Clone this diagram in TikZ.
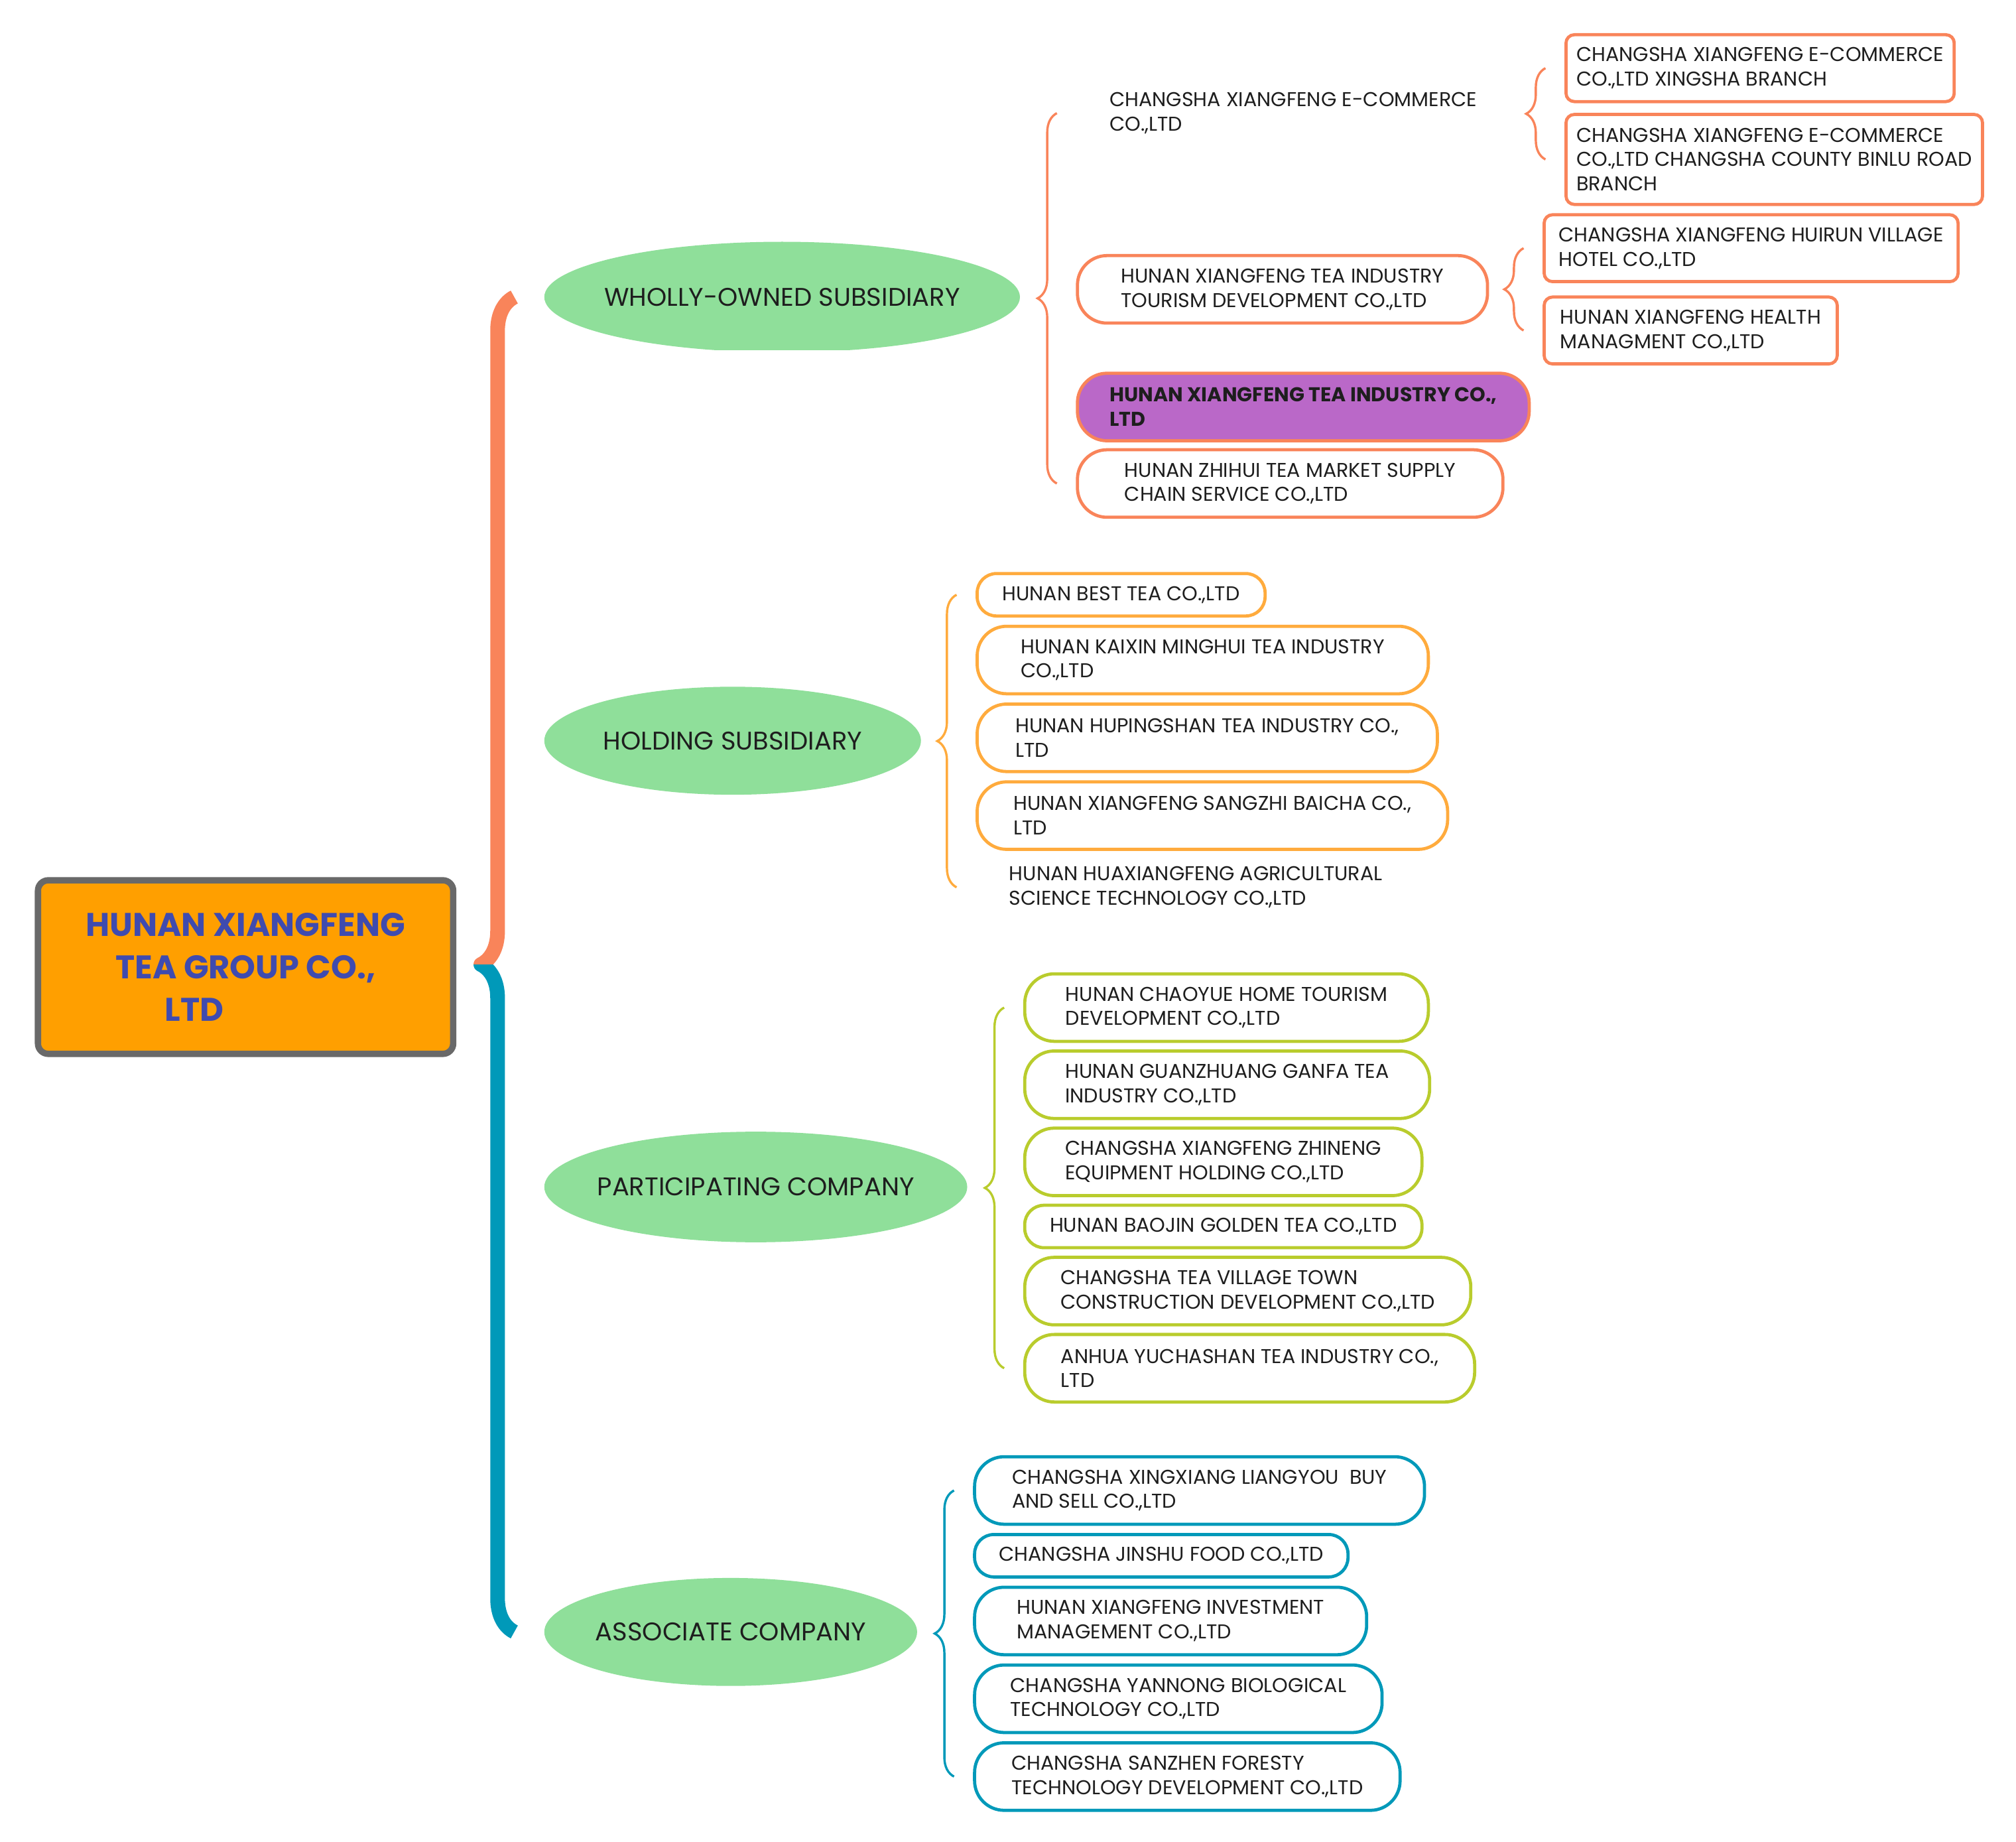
\documentclass[tikz,border=0pt]{standalone}
\usepackage{fontspec}
\setmainfont{Poppins}
\usetikzlibrary{positioning,shapes.geometric,calc,decorations.pathreplacing}
\definecolor{colWhole}{HTML}{F9845A}
\definecolor{colHold}{HTML}{FFAB3D}
\definecolor{colPart}{HTML}{B9CC2D}
\definecolor{colAssoc}{HTML}{0099B9}
\definecolor{catgreen}{HTML}{8FDF9A}
\definecolor{rootfill}{HTML}{FF9F00}
\definecolor{rootline}{HTML}{696969}
\definecolor{rootink}{HTML}{3F4BAF}
\definecolor{hilite}{HTML}{BA68C8}
\definecolor{ink}{HTML}{1E1E1E}
\newcommand{\leaffont}{\fontsize{8.85}{10.8}\selectfont}
\newcommand{\catfont}{\fontsize{11.3}{13}\selectfont}
\newcommand{\rootfont}{\fontsize{14.5}{18.8}\selectfont\bfseries}

\begin{document}
\begin{tikzpicture}[
  x=0.02cm, y=-0.02cm,
  cat/.style={ellipse, fill=catgreen, inner xsep=-1.6cm, inner ysep=0pt, anchor=west, font=\catfont, text=ink},
  firm/.style={draw=#1, line width=1.4pt, outer sep=0pt, rounded corners=0.46cm, align=left, anchor=west,
    inner xsep=0.5cm, minimum height=1.05cm, font=\leaffont, text=ink},
  firmone/.style={firm=#1, rounded corners=0.3cm, minimum height=0.66cm, inner xsep=0.38cm},
  plain/.style={align=left, anchor=west, inner xsep=0.5cm, outer sep=0pt, font=\leaffont, text=ink},
  branch/.style={draw=colWhole, line width=1.4pt, outer sep=0pt, rounded corners=0.13cm, align=left, anchor=west,
    inner xsep=0.16cm, minimum height=1.04cm, font=\leaffont, text=ink},
  brk/.style={draw=#1, line width=1pt, decorate, decoration={brace, amplitude=0.3cm}},
  mainbrk/.style={draw=#1, line width=6.5pt, line join=round, decorate, decoration={brace, amplitude=0.52cm}}
]
  \useasboundingbox (0,0) rectangle (1568,1432);

  % root
  \node (root) [draw=rootline, line width=2.8pt, fill=rootfill, rounded corners=0.16cm,
    minimum width=6.46cm, minimum height=2.7cm, align=center, font=\rootfont, text=rootink]
    at (191,752) {HUNAN XIANGFENG\\TEA GROUP CO.,\\LTD\hspace*{1.6cm}};

  % categories
  \begin{scope}
    \clip (0,0) rectangle (1568,272);
    \node (whole) [cat, minimum width=7.4cm, minimum height=1.72cm] at (423,231) {WHOLLY-OWNED SUBSIDIARY};
  \end{scope}
  \node (hold) [cat, minimum width=5.86cm, minimum height=1.68cm] at (423,576) {HOLDING SUBSIDIARY};
  \node (part) [cat, minimum width=6.58cm, minimum height=1.72cm] at (423,923) {PARTICIPATING COMPANY};
  \node (assoc) [cat, minimum width=5.8cm, minimum height=1.68cm] at (423,1269) {ASSOCIATE COMPANY};

  \begin{scope}
    \clip (0,0) rectangle (1568,750);
    \draw[mainbrk=colWhole] ($(assoc.west)+(-23,0)$) -- ($(whole.west)+(-23,0)$);
  \end{scope}
  \begin{scope}
    \clip (0,750) rectangle (1568,1432);
    \draw[mainbrk=colAssoc] ($(assoc.west)+(-23,0)$) -- ($(whole.west)+(-23,0)$);
  \end{scope}

  % wholly-owned subsidiary
  \node (wa) [plain] at (838,88) {CHANGSHA XIANGFENG E-COMMERCE\\CO.,LTD};
  \node (wb) [firm=colWhole, minimum width=6.38cm] at (838,225)
    {HUNAN XIANGFENG TEA INDUSTRY\\TOURISM DEVELOPMENT CO.,LTD};
  \node (wc) [firm=colWhole, fill=hilite, minimum width=7cm, font=\leaffont\bfseries] at (838,316.5)
    {HUNAN XIANGFENG TEA INDUSTRY CO.,\\LTD};
  \node (wd) [firm=colWhole, minimum width=6.62cm, below=0.14cm of wc.south west, anchor=north west]
    {HUNAN ZHIHUI TEA MARKET SUPPLY\\CHAIN SERVICE CO.,LTD};
  \draw[brk=colWhole] ($(wd.west)+(-16,0)$) -- ($(wa.west)+(-16,0)$);

  \node (wa1) [branch, minimum width=6.04cm] at (1218,53)
    {CHANGSHA XIANGFENG E-COMMERCE\\CO.,LTD XINGSHA BRANCH};
  \node (wa2) [branch, minimum width=6.48cm, minimum height=1.4cm, below=0.2cm of wa1.south west, anchor=north west]
    {CHANGSHA XIANGFENG E-COMMERCE\\CO.,LTD CHANGSHA COUNTY BINLU ROAD\\BRANCH};
  \draw[brk=colWhole] ($(wa2.west)+(-16,0)$) -- ($(wa1.west)+(-16,0)$);

  \node (wb1) [branch, minimum width=6.44cm] at (1201,193)
    {CHANGSHA XIANGFENG HUIRUN VILLAGE\\HOTEL CO.,LTD};
  \node (wb2) [branch, minimum width=4.56cm, below=0.24cm of wb1.south west, anchor=north west]
    {HUNAN XIANGFENG HEALTH\\MANAGMENT CO.,LTD};
  \draw[brk=colWhole] ($(wb2.west)+(-16,0)$) -- ($(wb1.west)+(-16,0)$);

  % holding subsidiary
  \node (h1) [firmone=colHold, minimum width=4.48cm] at (760,462.5) {HUNAN BEST TEA CO.,LTD};
  \node (h2) [firm=colHold, minimum width=7.02cm, below=0.16cm of h1.south west, anchor=north west]
    {HUNAN KAIXIN MINGHUI TEA INDUSTRY\\CO.,LTD};
  \node (h3) [firm=colHold, minimum width=7.16cm, below=0.16cm of h2.south west, anchor=north west]
    {HUNAN HUPINGSHAN TEA INDUSTRY CO.,\\LTD};
  \node (h4) [firm=colHold, minimum width=7.32cm, below=0.16cm of h3.south west, anchor=north west]
    {HUNAN XIANGFENG SANGZHI BAICHA CO.,\\LTD};
  \node (h5) [plain] at (760,690) {HUNAN HUAXIANGFENG AGRICULTURAL\\SCIENCE TECHNOLOGY CO.,LTD};
  \draw[brk=colHold] ($(h5.west)+(-16,0)$) -- ($(h1.west)+(-16,0)$);

  % participating company
  \node (p1) [firm=colPart, minimum width=6.28cm] at (797,783.5)
    {HUNAN CHAOYUE HOME TOURISM\\DEVELOPMENT CO.,LTD};
  \node (p2) [firm=colPart, minimum width=6.3cm, below=0.15cm of p1.south west, anchor=north west]
    {HUNAN GUANZHUANG GANFA TEA\\INDUSTRY CO.,LTD};
  \node (p3) [firm=colPart, minimum width=6.18cm, below=0.15cm of p2.south west, anchor=north west]
    {CHANGSHA XIANGFENG ZHINENG\\EQUIPMENT HOLDING CO.,LTD};
  \node (p4) [firmone=colPart, minimum width=6.18cm, below=0.15cm of p3.south west, anchor=north west]
    {HUNAN BAOJIN GOLDEN TEA CO.,LTD};
  \node (p5) [firm=colPart, minimum width=6.94cm, below=0.15cm of p4.south west, anchor=north west]
    {CHANGSHA TEA VILLAGE TOWN\\CONSTRUCTION DEVELOPMENT CO.,LTD};
  \node (p6) [firm=colPart, minimum width=7cm, below=0.15cm of p5.south west, anchor=north west]
    {ANHUA YUCHASHAN TEA INDUSTRY CO.,\\LTD};
  \draw[brk=colPart] ($(p6.west)+(-16,0)$) -- ($(p1.west)+(-16,0)$);

  % associate company
  \node (s1) [firm=colAssoc, minimum width=7cm] at (758,1159)
    {CHANGSHA XINGXIANG LIANGYOU~ BUY\\AND SELL CO.,LTD};
  \node (s2) [firmone=colAssoc, minimum width=5.72cm, below=0.16cm of s1.south west, anchor=north west]
    {CHANGSHA JINSHU FOOD CO.,LTD};
  \node (s3) [firm=colAssoc, minimum width=6.1cm, below=0.16cm of s2.south west, anchor=north west]
    {HUNAN XIANGFENG INVESTMENT\\MANAGEMENT CO.,LTD};
  \node (s4) [firm=colAssoc, minimum width=6.34cm, below=0.16cm of s3.south west, anchor=north west]
    {CHANGSHA YANNONG BIOLOGICAL\\TECHNOLOGY CO.,LTD};
  \node (s5) [firm=colAssoc, minimum width=6.62cm, below=0.16cm of s4.south west, anchor=north west]
    {CHANGSHA SANZHEN FORESTY\\TECHNOLOGY DEVELOPMENT CO.,LTD};
  \draw[brk=colAssoc] ($(s5.west)+(-16,0)$) -- ($(s1.west)+(-16,0)$);
\end{tikzpicture}
\end{document}
